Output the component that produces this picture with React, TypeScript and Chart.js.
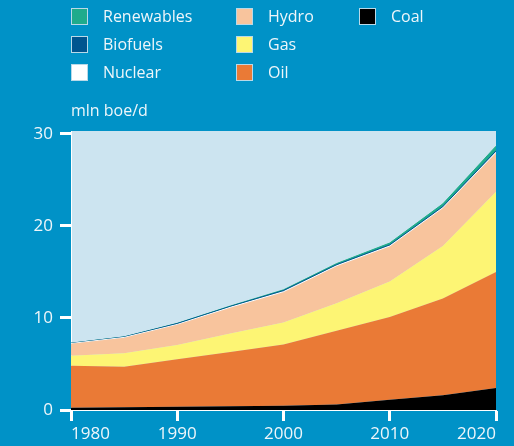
import React, { useEffect, useRef } from "react";
import { Chart, registerables } from "chart.js";

Chart.register(...registerables);

// Energy demand by source, million barrels of oil equivalent per day
const years = [1980, 1985, 1990, 1995, 2000, 2005, 2010, 2015, 2020];
const coal = [0.25, 0.3, 0.35, 0.4, 0.45, 0.6, 1.1, 1.6, 2.4];
const oil = [4.55, 4.4, 5.15, 5.9, 6.65, 8.0, 9.0, 10.5, 12.6];
const gas = [1.1, 1.45, 1.55, 2.0, 2.4, 3.0, 3.85, 5.7, 8.7];
const hydro = [1.3, 1.7, 2.2, 2.8, 3.3, 4.0, 3.8, 4.1, 4.2];
const nuclear = [0.02, 0.03, 0.04, 0.05, 0.05, 0.06, 0.06, 0.07, 0.1];
const biofuels = [0.03, 0.05, 0.1, 0.1, 0.12, 0.12, 0.12, 0.12, 0.15];
const renewables = [0, 0.01, 0.02, 0.04, 0.08, 0.12, 0.2, 0.3, 0.5];

const yTicks = [0, 10, 20, 30];
const xTicks = [1980, 1990, 2000, 2010, 2020];

const BG = "#0092c7";
const PLOT_BG = "#cce4f0";
const TEXT = "#eef6fa";
const FONT = "'Open Sans', 'DejaVu Sans', sans-serif";

const series = [
  { name: "Coal", values: coal, color: "#000000", thin: false },
  { name: "Oil", values: oil, color: "#ea7a36", thin: false },
  { name: "Gas", values: gas, color: "#fdf574", thin: false },
  { name: "Hydro", values: hydro, color: "#f8c49d", thin: false },
  { name: "Nuclear", values: nuclear, color: "#ffffff", thin: true },
  { name: "Biofuels", values: biofuels, color: "#00558f", thin: true },
  { name: "Renewables", values: renewables, color: "#1fab8c", thin: true },
];

// legend columns, top to bottom
const legendColumns = [
  ["Renewables", "Biofuels", "Nuclear"],
  ["Hydro", "Gas", "Oil"],
  ["Coal"],
];

const plotBackground = {
  id: "plotBackground",
  beforeDraw(chart: any) {
    const { ctx, chartArea } = chart;
    if (!chartArea) return;
    ctx.save();
    ctx.fillStyle = PLOT_BG;
    ctx.fillRect(chartArea.left, chartArea.top, chartArea.right - chartArea.left, chartArea.bottom - chartArea.top);
    ctx.restore();
  },
};

export default function App() {
  const canvasRef = useRef<HTMLCanvasElement | null>(null);

  useEffect(() => {
    const canvas = canvasRef.current;
    if (!canvas) return;
    const chart = new Chart(canvas, {
      type: "line",
      data: {
        datasets: series.map((s, i) => ({
          label: s.name,
          data: years.map((yr, j) => ({ x: yr, y: s.values[j] })),
          backgroundColor: s.color,
          borderColor: s.color,
          borderWidth: s.thin ? 1 : 0,
          fill: i === 0 ? "origin" : "-1",
          pointRadius: 0,
          tension: 0,
        })),
      },
      options: {
        responsive: false,
        animation: false,
        devicePixelRatio: 1,
        layout: { padding: { top: 131, right: 18, left: 0, bottom: 0 } },
        plugins: { legend: { display: false }, tooltip: { enabled: false } },
        scales: {
          x: {
            type: "linear",
            min: 1980,
            max: 2020,
            afterFit: (scale: any) => {
              scale.height = 36;
            },
            afterBuildTicks: (scale: any) => {
              scale.ticks = xTicks.map((v) => ({ value: v }));
            },
            ticks: {
              align: "inner",
              color: TEXT,
              font: { family: FONT, size: 17 },
              padding: 3,
              maxRotation: 0,
              callback: (v: any) => String(v),
            },
            grid: {
              drawOnChartArea: false,
              drawTicks: true,
              tickLength: 11,
              tickWidth: 3,
              tickColor: "#ffffff",
            },
            border: { color: "#ffffff", width: 1 },
          },
          y: {
            stacked: true,
            min: 0,
            max: 30.3,
            afterFit: (scale: any) => {
              scale.width = 71;
            },
            afterBuildTicks: (scale: any) => {
              scale.ticks = yTicks.map((v) => ({ value: v }));
            },
            ticks: {
              color: TEXT,
              font: { family: FONT, size: 17 },
              padding: 7,
              callback: (v: any) => String(v),
            },
            grid: {
              drawOnChartArea: false,
              drawTicks: true,
              tickLength: 11,
              tickWidth: 3,
              tickColor: "#ffffff",
            },
            border: { color: "#ffffff", width: 1 },
          },
        },
      },
      plugins: [plotBackground],
    } as any);
    return () => chart.destroy();
  }, []);

  const colorOf = (name: string) => series.find((s) => s.name === name)!.color;
  const colX = [71, 236, 359];

  return (
    <div
      style={{
        position: "fixed",
        left: 0,
        top: 0,
        width: 514,
        height: 446,
        background: BG,
        fontFamily: FONT,
        color: TEXT,
        overflow: "hidden",
      }}
    >
      <canvas ref={canvasRef} width={514} height={446} style={{ position: "absolute", left: 0, top: 0 }} />
      {legendColumns.map((col, ci) =>
        col.map((name, ri) => (
          <div
            key={name}
            style={{
              position: "absolute",
              left: colX[ci],
              top: 7 + ri * 28,
              height: 18,
              display: "flex",
              alignItems: "center",
              fontSize: 16,
              whiteSpace: "nowrap",
            }}
          >
            <span
              style={{
                display: "inline-block",
                width: 15,
                height: 15,
                background: colorOf(name),
                border: "1px solid #b9d9e8",
                marginRight: 15,
              }}
            />
            <span>{name}</span>
          </div>
        ))
      )}
      <div style={{ position: "absolute", left: 71, top: 99, fontSize: 16, whiteSpace: "nowrap" }}>mln boe/d</div>
    </div>
  );
}
